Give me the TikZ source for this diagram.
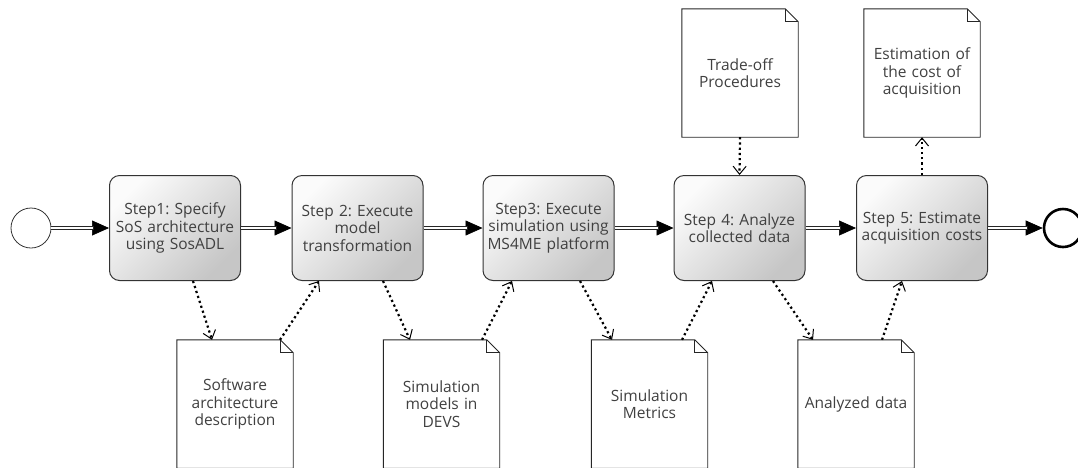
\documentclass[tikz,border=0pt]{standalone}
\usepackage{fontspec}
\setmainfont{Open Sans}
\usetikzlibrary{arrows.meta}
\tikzset{
  stepbox/.style={draw=black!80, line width=1pt, rounded corners=10pt,
    top color=gray!3, bottom color=gray!45, shading angle=45,
    minimum width=131pt, minimum height=105pt, text width=130pt,
    align=center, inner sep=0pt, text=black!75},
  docbox/.style={minimum width=116pt, minimum height=128pt, text width=114pt,
    align=center, inner sep=0pt, text=black!75},
  startev/.style={circle, draw=black!80, line width=0.8pt, minimum size=40pt, inner sep=0pt},
  endev/.style={circle, draw=black, line width=2.6pt, minimum size=38pt, inner sep=0pt},
  flow/.style={draw=black, fill=black, line width=0.6pt,
    -{Triangle[length=17pt,width=15pt]},
    postaction={draw=black!85, line width=3.2pt, -, shorten >=15pt},
    postaction={draw=white, line width=1.1pt, -, shorten >=16pt}},
  assoc/.style={line width=2.2pt, dash pattern=on 2.2pt off 3pt,
    -{Straight Barb[length=8pt,width=13pt,line width=1pt]}},
}
\newcommand\docframe[1]{%
  \draw[line width=0.9pt, black!85] (#1.north west) -- ([xshift=-13pt]#1.north east)
    -- ([yshift=-13pt]#1.north east) -- (#1.south east) -- (#1.south west) -- cycle;
  \draw[line width=0.9pt, black!85] ([xshift=-13pt]#1.north east) |- ([yshift=-13pt]#1.north east);
}
\frenchspacing
\begin{document}
\begin{tikzpicture}[x=1pt, y=-1pt, font=\fontsize{15.5}{17.5}\selectfont]
  \useasboundingbox (0,0) rectangle (1078,467);
  \node[startev] (start) at (31,228) {};
  \node[stepbox] (s1) at (175,228) {Step1: Specify\\SoS architecture\\using SosADL};
  \node[stepbox] (s2) at (357.5,228) {Step 2: Execute\\model\\transformation};
  \node[stepbox] (s3) at (548.5,228) {Step3: Execute\\simulation using\\MS4ME platform};
  \node[stepbox] (s4) at (739.5,228) {Step 4: Analyze\\collected data};
  \node[stepbox] (s5) at (922,228) {Step 5: Estimate\\acquisition costs};
  \node[endev] (end) at (1063,228) {};

  \node[docbox] (d1) at (235,404) {Software\\architecture\\description};
  \node[docbox] (d2) at (441.5,404) {Simulation\\models in\\DEVS};
  \node[docbox] (d3) at (649.5,404) {Simulation\\Metrics};
  \node[docbox] (d4) at (856,404) {Analyzed data};
  \node[docbox] (t1) at (740,73) {Trade-off\\Procedures};
  \node[docbox] (t2) at (922,73) {Estimation of\\the cost of\\acquisition};
  \docframe{d1} \docframe{d2} \docframe{d3} \docframe{d4}
  \docframe{t1} \docframe{t2}

  \begin{scope}
    \draw[flow] (start) -- (s1);
    \draw[flow] (s1) -- (s2);
    \draw[flow] (s2) -- (s3);
    \draw[flow] (s3) -- (s4);
    \draw[flow] (s4) -- (s5);
    \draw[flow] (s5) -- (end);
  \end{scope}

  \begin{scope}
    \draw[assoc] ([xshift=18pt]s1.south) -- ([xshift=-23pt]d1.north);
    \draw[assoc] ([xshift=45pt]d1.north) -- ([xshift=-38.5pt]s2.south);
    \draw[assoc] ([xshift=25.5pt]s2.south) -- ([xshift=-31.5pt]d2.north);
    \draw[assoc] ([xshift=40.5pt]d2.north) -- ([xshift=-36.5pt]s3.south);
    \draw[assoc] ([xshift=31.5pt]s3.south) -- ([xshift=-37.5pt]d3.north);
    \draw[assoc] ([xshift=32.5pt]d3.north) -- ([xshift=-27.5pt]s4.south);
    \draw[assoc] ([xshift=33.5pt]s4.south) -- ([xshift=-43pt]d4.north);
    \draw[assoc] ([xshift=26pt]d4.north) -- ([xshift=-20pt]s5.south);
    \draw[assoc] (t1.south) -- (s4.north);
    \draw[assoc] (s5.north) -- (t2.south);
  \end{scope}
\end{tikzpicture}
\end{document}
